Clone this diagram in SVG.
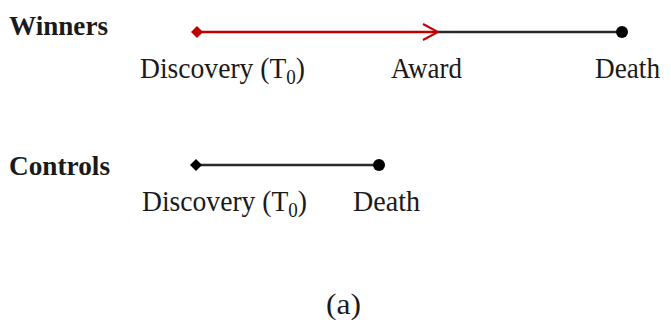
<svg xmlns="http://www.w3.org/2000/svg" width="671" height="332" viewBox="0 0 671 332">
<style>
text{font-family:"Liberation Serif","Times New Roman",serif;fill:#1a1a1a}
.h{font-weight:bold;font-size:28px}
.l{font-size:29px}
.s{font-size:20px}
</style>
<defs>
<marker id="chev" markerWidth="18" markerHeight="20" refX="16" refY="10" orient="auto" markerUnits="userSpaceOnUse">
<path d="M1,2 L16,10 L1,18" fill="none" stroke="#c00000" stroke-width="2"/>
</marker>
</defs>
<rect width="671" height="332" fill="#fff"/>
<g id="connectors">
<line x1="438" y1="32" x2="622" y2="32" stroke="#2a2a2a" stroke-width="2.5"/>
<line x1="197" y1="32" x2="438" y2="32" stroke="#c00000" stroke-width="2.5" marker-end="url(#chev)"/>
<line x1="196" y1="165" x2="379" y2="165" stroke="#2a2a2a" stroke-width="2.5"/>
</g>
<g id="winners">
<text class="h" x="9" y="35" textLength="99" lengthAdjust="spacingAndGlyphs">Winners</text>
<polygon points="197,26 203,32 197,38 191,32" fill="#c00000"/>
<circle cx="622" cy="32" r="6" fill="#000"/>
<text class="l" x="140" y="78" textLength="165" lengthAdjust="spacingAndGlyphs">Discovery (T<tspan class="s" dy="6">0</tspan><tspan dy="-6">)</tspan></text>
<text class="l" x="391" y="78" textLength="71" lengthAdjust="spacingAndGlyphs">Award</text>
<text class="l" x="595" y="78" textLength="65" lengthAdjust="spacingAndGlyphs">Death</text>
</g>
<g id="controls">
<text class="h" x="9" y="175" textLength="101" lengthAdjust="spacingAndGlyphs">Controls</text>
<polygon points="196,159 202,165 196,171 190,165" fill="#000"/>
<circle cx="379" cy="165" r="6" fill="#000"/>
<text class="l" x="142" y="211" textLength="165" lengthAdjust="spacingAndGlyphs">Discovery (T<tspan class="s" dy="6">0</tspan><tspan dy="-6">)</tspan></text>
<text class="l" x="353" y="211" textLength="67" lengthAdjust="spacingAndGlyphs">Death</text>
</g>
<text class="l" x="326" y="314" textLength="35" lengthAdjust="spacingAndGlyphs">(a)</text>
</svg>
